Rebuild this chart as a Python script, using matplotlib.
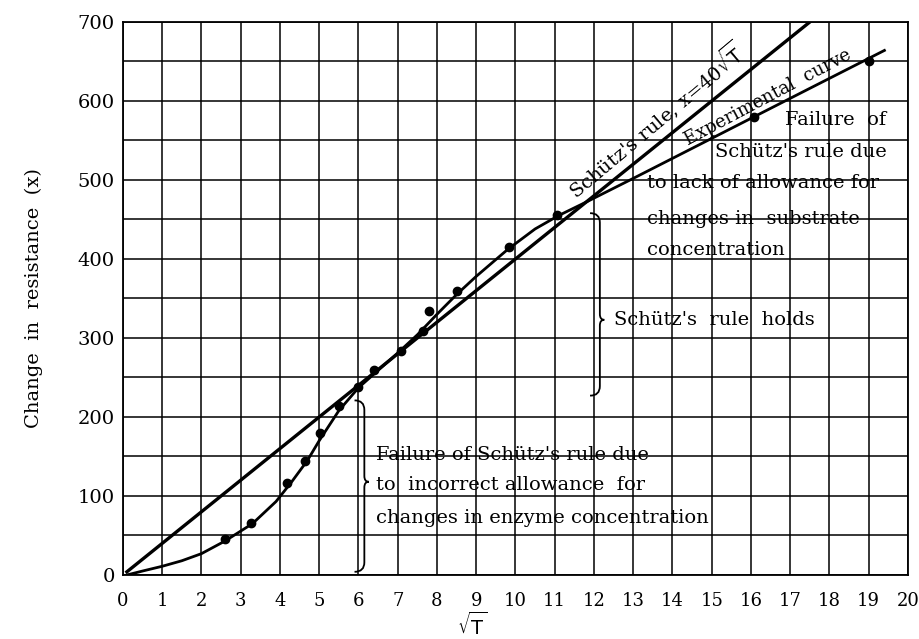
import numpy as np
import matplotlib.pyplot as plt
from matplotlib.path import Path
from matplotlib.patches import PathPatch

plt.rcParams['font.family'] = 'DejaVu Serif'

# punkty pomiarowe: pierwiastek z czasu i zmiana oporu
sqrt_t = [2.6, 3.25, 4.17, 4.64, 5.03, 5.5, 6.0, 6.4, 7.08, 7.64, 7.8, 8.5, 9.83, 11.07, 16.07, 19.0]
change = [45, 66, 117, 144, 180, 214, 238, 260, 284, 309, 334, 360, 415, 456, 580, 650]

# krzywa doswiadczalna
curve_t = [0.1, 0.5, 1.0, 1.5, 2.0, 2.6, 3.3, 3.9, 4.3, 4.7, 5.0, 5.5, 6.0, 6.5, 7.0, 7.5,
           8.0, 8.5, 9.0, 9.8, 10.5, 11.1, 11.8, 13.0, 14.5, 16.0, 17.5, 19.4]
curve_x = [0, 5, 11, 18, 27, 43, 65, 93, 118, 145, 170, 208, 237, 259, 281, 304,
           330, 355, 378, 412, 438, 455, 472, 502, 540, 578, 616, 664]

# regula Schutza x = 40 sqrt(T)
schutz_k = 40
schutz_t = np.array([0.1, 17.5])

# klamry: polozenie, dolny i gorny koniec, wierzcholek
holds_brace = (12.15, 227, 458, 323)
enzyme_brace = (6.15, 4, 221, 118)


def brace(ax, x, y0, y1, ytip, w=0.25, r=12):
    verts = [(x - w, y1), (x, y1), (x, y1 - r),
             (x, ytip + r * 0.6),
             (x, ytip), (x + w * 0.45, ytip),
             (x, ytip), (x, ytip - r * 0.6),
             (x, y0 + r),
             (x, y0), (x - w, y0)]
    codes = [Path.MOVETO, Path.CURVE3, Path.CURVE3, Path.LINETO,
             Path.CURVE3, Path.CURVE3, Path.CURVE3, Path.CURVE3,
             Path.LINETO, Path.CURVE3, Path.CURVE3]
    ax.add_patch(PathPatch(Path(verts, codes), facecolor='none',
                           edgecolor='black', linewidth=1.3, zorder=3))


fig = plt.figure(figsize=(9.19, 6.39), dpi=100)
ax = fig.add_axes([0.1338, 0.1002, 0.8542, 0.8654])

ax.plot(schutz_t, schutz_k * schutz_t, color='black', linewidth=2.4, zorder=4)
ax.plot(curve_t, curve_x, color='black', linewidth=2.0, zorder=4,
        solid_joinstyle='round')
ax.plot(sqrt_t, change, 'o', color='black', markersize=6, zorder=5)

ax.set_xlim(0, 20)
ax.set_ylim(0, 700)
ax.set_xticks(range(0, 21))
ax.set_yticks(range(0, 701, 100))
ax.set_yticks(range(50, 700, 100), minor=True)
ax.grid(True, which='both', color='black', linewidth=1.1)
ax.set_axisbelow(True)
ax.tick_params(which='both', length=0)
ax.tick_params(axis='x', labelsize=13, pad=12)
ax.tick_params(axis='y', labelsize=14, pad=6)
for s in ax.spines.values():
    s.set_linewidth(1.3)

ax.set_ylabel('Change  in  resistance  (x)', fontsize=14, labelpad=25)
ax.set_xlabel(r'$\sqrt{\mathrm{T}}$', fontsize=14)
ax.xaxis.set_label_coords(0.445, -0.066)

# opisy prostej i krzywej
ax.text(13.55, 576, "Schütz's rule, x=40$\\sqrt{\\mathrm{T}}$", rotation=40,
        rotation_mode='anchor', ha='center', va='center', fontsize=14)
ax.text(16.44, 605, 'Experimental  curve', rotation=28,
        rotation_mode='anchor', ha='center', va='center', fontsize=13)

# objasnienia
brace(ax, *holds_brace)
ax.text(12.5, holds_brace[3], "Schütz's  rule  holds", fontsize=14, va='center')

brace(ax, *enzyme_brace)
ax.text(6.45, 152, "Failure of Schütz's rule due", fontsize=14, va='center')
ax.text(6.45, 114, 'to  incorrect allowance  for', fontsize=14, va='center')
ax.text(6.45, 72, 'changes in enzyme concentration', fontsize=14, va='center')

ax.text(19.45, 576, 'Failure  of', fontsize=14, va='center', ha='right')
ax.text(19.45, 536, "Schütz's rule due", fontsize=14, va='center', ha='right')
ax.text(13.35, 496, 'to lack of allowance for', fontsize=14, va='center')
ax.text(13.35, 451, 'changes in  substrate', fontsize=14, va='center')
ax.text(13.35, 411, 'concentration', fontsize=14, va='center')

fig.savefig('out.png', dpi=100, facecolor='white')
